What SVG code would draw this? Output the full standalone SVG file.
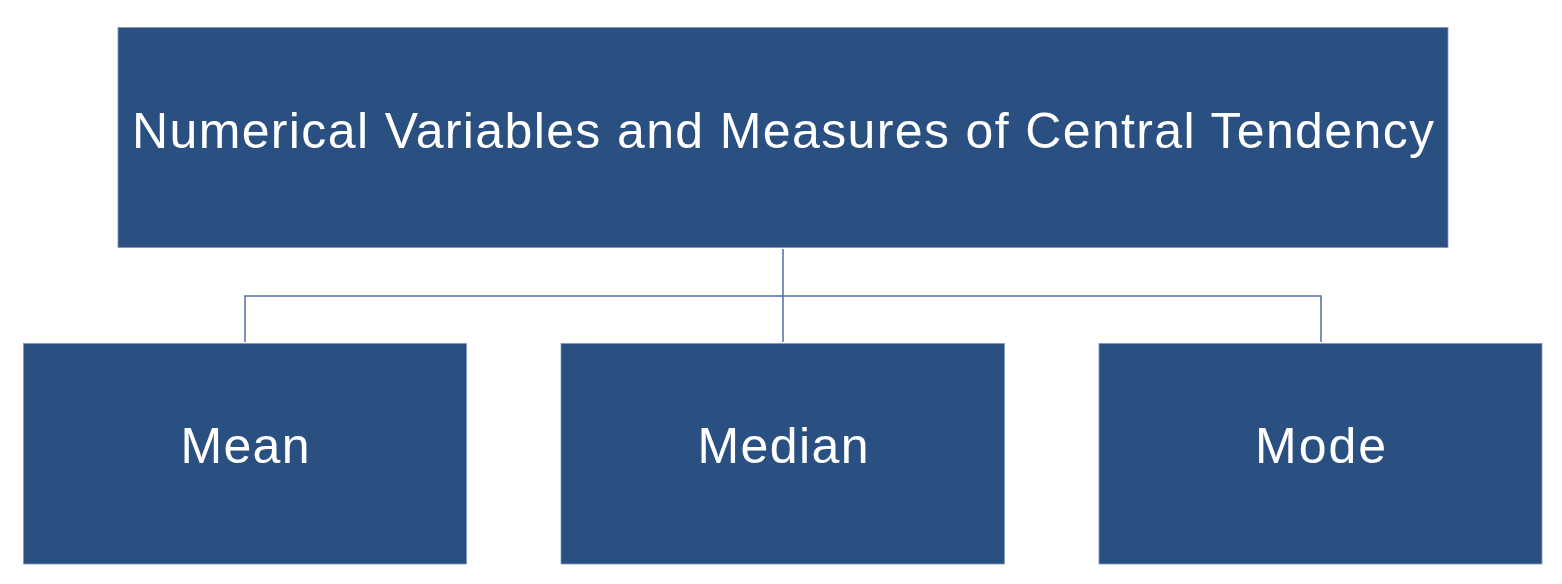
<svg xmlns="http://www.w3.org/2000/svg" width="1562" height="584" viewBox="0 0 1562 584">
<style>
.box{fill:#2A5082;stroke:#7F97BD;stroke-width:0.8}
.lbl{font-family:"Liberation Sans",Arial,sans-serif;font-size:50px;fill:#FFFFFF;text-anchor:middle}
.conn{fill:none;stroke:#4F6FA0;stroke-width:1.5}
</style>
<rect width="1562" height="584" fill="#FFFFFF"/>
<g id="connectors">
<path class="conn" d="M783,249 V342"/>
<path class="conn" d="M245,342 V296 H1321 V342"/>
</g>
<g id="root">
<rect class="box" x="118" y="27.5" width="1330" height="220"/>
<text class="lbl" x="783" y="148" textLength="1302" lengthAdjust="spacing">Numerical Variables and Measures of Central Tendency</text>
</g>
<g id="mean">
<rect class="box" x="23.5" y="343.5" width="443" height="220.5"/>
<text class="lbl" x="245" y="463" textLength="129" lengthAdjust="spacing">Mean</text>
</g>
<g id="median">
<rect class="box" x="561" y="343.5" width="443.5" height="220.5"/>
<text class="lbl" x="783" y="463" textLength="171" lengthAdjust="spacing">Median</text>
</g>
<g id="mode">
<rect class="box" x="1099" y="343.5" width="443" height="220.5"/>
<text class="lbl" x="1320.5" y="463" textLength="131" lengthAdjust="spacing">Mode</text>
</g>
</svg>
